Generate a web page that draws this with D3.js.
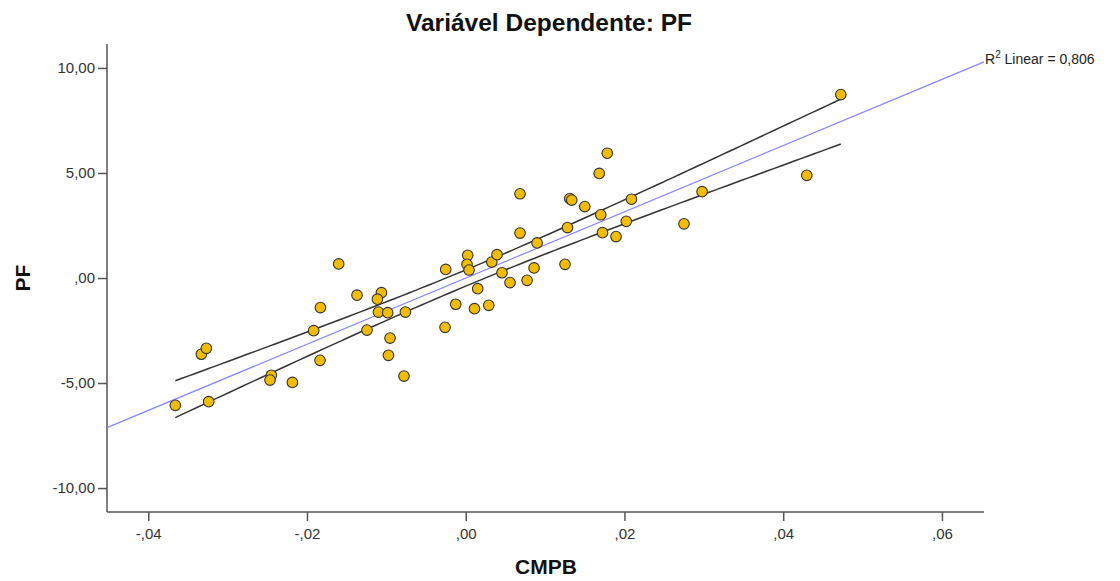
<!DOCTYPE html>
<html>
<head>
<meta charset="utf-8">
<script src="https://cdn.jsdelivr.net/npm/d3@7"></script>
<style>
  body { margin: 0; background: #fff; }
  text { font-family: "Liberation Sans", Arial, sans-serif; }
  .axis path, .axis line { stroke: #555; stroke-width: 1.5; }
  .axis text { fill: #333; font-size: 15px; }
</style>
</head>
<body>
<div id="chart"></div>
<script>
// CMPB (x) and PF (y)
var cmpb = [-0.03659, -0.03239, -0.03331, -0.03268, -0.02449, -0.02466, -0.02184, -0.01916, -0.01831, -0.01836,
  -0.01601, -0.01370, -0.01062, -0.01113, -0.01100, -0.00983, -0.00760, -0.01244, -0.00954, -0.00974,
  -0.00778, -0.00252, -0.00261, -0.00126, 0.00025, 0.00016, 0.00042, 0.00110, 0.00151, 0.00290,
  0.00328, 0.00394, 0.00457, 0.00558, 0.00684, 0.00684, 0.00773, 0.00861, 0.00899, 0.01251,
  0.01282, 0.01311, 0.01336, 0.01500, 0.01682, 0.01701, 0.01723, 0.01783, 0.01894, 0.02023,
  0.02088, 0.02750, 0.02978, 0.04297, 0.04726];
var pf = [-6.06, -5.89, -3.63, -3.35, -4.63, -4.86, -4.97, -2.51, -1.41, -3.92,
  0.67, -0.82, -0.70, -1.01, -1.62, -1.65, -1.62, -2.48, -2.86, -3.68,
  -4.67, 0.41, -2.35, -1.25, 1.08, 0.65, 0.38, -1.46, -0.51, -1.30,
  0.76, 1.11, 0.25, -0.22, 2.14, 4.01, -0.11, 0.48, 1.67, 0.65,
  2.40, 3.78, 3.71, 3.40, 4.98, 3.01, 2.16, 5.94, 1.97, 2.70,
  3.75, 2.58, 4.11, 4.89, 8.73];

var xTicks = [-0.04, -0.02, 0, 0.02, 0.04, 0.06];
var xTickLabels = ["-,04", "-,02", ",00", ",02", ",04", ",06"];
var yTicks = [-10, -5, 0, 5, 10];
var yTickLabels = ["-10,00", "-5,00", ",00", "5,00", "10,00"];
var rsqLabel = "0,806";

var W = 1120, H = 581;
var margin = {top: 44, right: 136, bottom: 69, left: 107};

var svg = d3.select("#chart").append("svg")
  .attr("width", W).attr("height", H);

var x = d3.scaleLinear().domain([-0.0452, 0.0653]).range([margin.left, W - margin.right]);
var y = d3.scaleLinear().domain([-11.14, 11.14]).range([H - margin.bottom, margin.top]);

// least squares fit + 95% mean confidence band
var n = cmpb.length;
var mx = d3.mean(cmpb), my = d3.mean(pf);
var sxx = d3.sum(cmpb, function (v) { return (v - mx) * (v - mx); });
var sxy = d3.sum(cmpb, function (v, i) { return (v - mx) * (pf[i] - my); });
var slope = sxy / sxx, icpt = my - slope * mx;
var sse = d3.sum(cmpb, function (v, i) { var r = pf[i] - (icpt + slope * v); return r * r; });
var s = Math.sqrt(sse / (n - 2));
var tval = 2.006;

function fit(v) { return icpt + slope * v; }
function half(v) { return tval * s * Math.sqrt(1 / n + (v - mx) * (v - mx) / sxx); }

// axes
var yAxis = svg.append("g").attr("class", "axis")
  .attr("transform", "translate(" + margin.left + ",0)")
  .call(d3.axisLeft(y).tickValues(yTicks).tickSizeOuter(0).tickSize(9)
    .tickFormat(function (d, i) { return yTickLabels[i]; }));
yAxis.select(".domain").attr("d", "M0," + margin.top + "V" + (H - margin.bottom));

var xAxis = svg.append("g").attr("class", "axis")
  .attr("transform", "translate(0," + (H - margin.bottom) + ")")
  .call(d3.axisBottom(x).tickValues(xTicks).tickSizeOuter(0).tickSize(9)
    .tickFormat(function (d, i) { return xTickLabels[i]; }));
xAxis.select(".domain").attr("d", "M" + margin.left + ",0H" + (W - margin.right));
xAxis.selectAll("text").attr("dy", "1.0em");

// fit line
var xd = x.domain();
svg.append("line")
  .attr("x1", x(xd[0])).attr("y1", y(fit(xd[0])))
  .attr("x2", x(xd[1])).attr("y2", y(fit(xd[1])))
  .attr("stroke", "#8585ff").attr("stroke-width", 1.2);

// confidence curves
var xs = d3.range(0, 101).map(function (k) {
  var lo = d3.min(cmpb), hi = d3.max(cmpb);
  return lo + (hi - lo) * k / 100;
});
var line = d3.line().x(function (d) { return x(d[0]); }).y(function (d) { return y(d[1]); });
[1, -1].forEach(function (sg) {
  svg.append("path")
    .attr("d", line(xs.map(function (v) { return [v, fit(v) + sg * half(v)]; })))
    .attr("fill", "none").attr("stroke", "#333").attr("stroke-width", 1.5);
});

// points
svg.append("g").selectAll("circle")
  .data(cmpb)
  .enter().append("circle")
  .attr("cx", function (d) { return x(d); })
  .attr("cy", function (d, i) { return y(pf[i]); })
  .attr("r", 5.3)
  .attr("fill", "#f2bc00")
  .attr("stroke", "#333")
  .attr("stroke-width", 1.1);

// R2 label
var rl = svg.append("text")
  .attr("x", x(xd[1]) + 1).attr("y", y(fit(xd[1])) + 2)
  .style("font-size", "14px").attr("fill", "#222");
rl.append("tspan").text("R");
rl.append("tspan").attr("dy", -6).style("font-size", "10px").text("2");
rl.append("tspan").attr("dy", 6).text(" Linear = " + rsqLabel);

// titles
svg.append("text")
  .attr("x", 549).attr("y", 31)
  .attr("text-anchor", "middle")
  .style("font-size", "23px").style("font-weight", "bold").attr("fill", "#111")
  .attr("textLength", 286).attr("lengthAdjust", "spacingAndGlyphs")
  .text("Variável Dependente: PF");

svg.append("text")
  .attr("x", 546).attr("y", 574)
  .attr("text-anchor", "middle")
  .style("font-size", "21px").style("font-weight", "bold").attr("fill", "#111")
  .text("CMPB");

svg.append("text")
  .attr("transform", "translate(30," + y(0) + ") rotate(-90)")
  .attr("text-anchor", "middle")
  .style("font-size", "21px").style("font-weight", "bold").attr("fill", "#111")
  .text("PF");
</script>
</body>
</html>
